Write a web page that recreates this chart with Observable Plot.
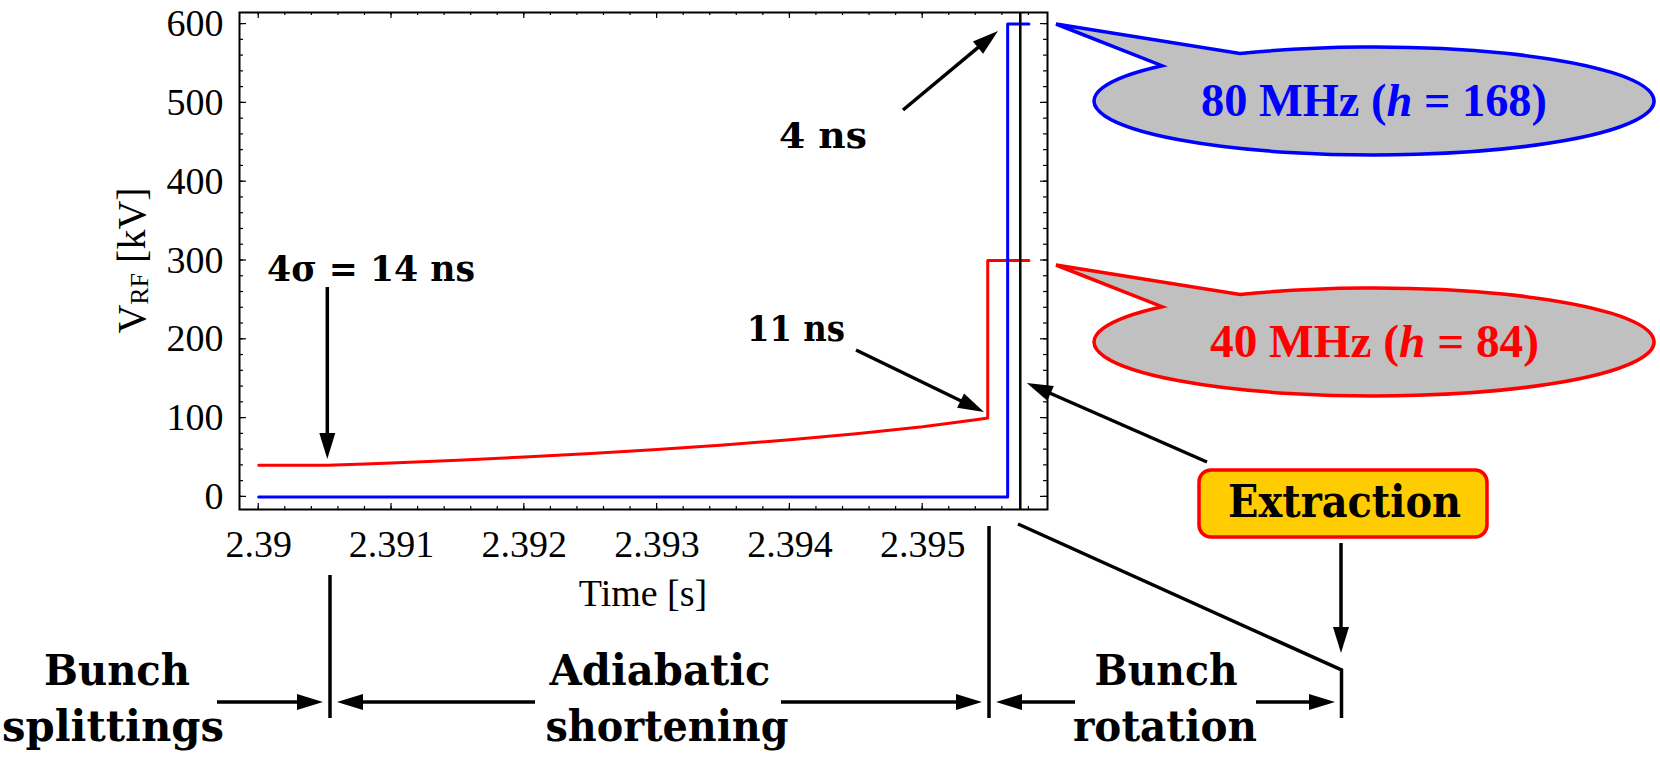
<!DOCTYPE html>
<html>
<head>
<meta charset="utf-8">
<script src="https://cdn.jsdelivr.net/npm/d3@7"></script>
<script src="https://cdn.jsdelivr.net/npm/@observablehq/plot@0.6"></script>
<style>
  body { margin: 0; background: #fff; }
  #chart svg { display: block; }
</style>
</head>
<body>
<div id="chart"></div>
<script>
// ---------- data ----------
const redTime = [2.39, 2.39052, 2.3908, 2.391, 2.3915, 2.392, 2.3925, 2.393, 2.3935, 2.394, 2.3945, 2.395, 2.3952, 2.3954, 2.39549, 2.39549, 2.3958];
const redVolt = [40, 40, 41.7, 43, 46.5, 50.5, 55, 60, 66, 72.5, 80, 89, 93.5, 98, 100, 300, 300];
const blueTime = [2.39, 2.39564, 2.39564, 2.3958];
const blueVolt = [0, 0, 600, 600];
const extractionTime = [2.395735];

const xTickValues = [2.39, 2.391, 2.392, 2.393, 2.394, 2.395];
const xTickLabels = ["2.39", "2.391", "2.392", "2.393", "2.394", "2.395"];
const yTickValues = [0, 100, 200, 300, 400, 500, 600];
const yTickLabels = ["0", "100", "200", "300", "400", "500", "600"];

const redSeries = redTime.map((t, i) => ({t, v: redVolt[i]}));
const blueSeries = blueTime.map((t, i) => ({t, v: blueVolt[i]}));

// ---------- layout ----------
const W = 1660, H = 759;
const mL = 239, mR = 613, mT = 12, mB = 250;

const plot = Plot.plot({
  width: W,
  height: H,
  marginLeft: mL, marginRight: mR, marginTop: mT, marginBottom: mB,
  style: {fontFamily: "'Liberation Serif', serif", fontSize: "38px", background: "white", color: "black", overflow: "visible"},
  x: {domain: [2.389855, 2.39594], ticks: xTickValues,
      tickFormat: d => xTickLabels[xTickValues.indexOf(d)], tickSize: 0, tickPadding: 21, label: null},
  y: {domain: [-16, 614.7], ticks: yTickValues,
      tickFormat: d => yTickLabels[yTickValues.indexOf(d)], tickSize: 0, tickPadding: 16, label: null},
  marks: [
    Plot.line(redSeries, {x: "t", y: "v", stroke: "#ff0000", strokeWidth: 3}),
    Plot.line(blueSeries, {x: "t", y: "v", stroke: "#0000ff", strokeWidth: 3}),
    Plot.ruleX(extractionTime, {stroke: "black", strokeWidth: 2.5}),
    Plot.frame({stroke: "black", strokeWidth: 2})
  ]
});
document.getElementById("chart").appendChild(plot);

// ---------- overlay: ticks & annotations ----------
const svg = d3.select(plot);
const sx = plot.scale("x"), sy = plot.scale("y");
const X = v => sx.apply(v), Y = v => sy.apply(v);
const fx0 = mL, fx1 = W - mR, fy0 = mT, fy1 = H - mB;
const g = svg.append("g").attr("text-anchor", "start");

// inward ticks on all four sides
const tickG = g.append("g").attr("stroke", "black").attr("stroke-width", 1.2);
const xMinor = d3.range(0, 30).map(i => 2.39 + i * 0.0002).filter(t => t <= 2.39581);
const yMinor = d3.range(0, 31).map(i => i * 20);
function hTick(x, len) {
  tickG.append("line").attr("x1", x).attr("x2", x).attr("y1", fy1).attr("y2", fy1 - len);
  tickG.append("line").attr("x1", x).attr("x2", x).attr("y1", fy0).attr("y2", fy0 + len);
}
function vTick(y, len) {
  tickG.append("line").attr("y1", y).attr("y2", y).attr("x1", fx0).attr("x2", fx0 + len);
  tickG.append("line").attr("y1", y).attr("y2", y).attr("x1", fx1).attr("x2", fx1 - len);
}
xMinor.forEach(t => hTick(X(t), 3));
xTickValues.forEach(t => hTick(X(t), 6));
yMinor.forEach(v => vTick(Y(v), 4));
yTickValues.forEach(v => vTick(Y(v), 7));

// axis titles
g.append("text").attr("x", (fx0 + fx1) / 2).attr("y", 606).attr("text-anchor", "middle")
  .attr("font-family", "'Liberation Serif', serif").attr("font-size", 38).text("Time [s]");
const yl = g.append("text").attr("transform", `translate(145,${(fy0 + fy1) / 2}) rotate(-90)`)
  .attr("text-anchor", "middle").attr("font-family", "'Liberation Serif', serif").attr("font-size", 40);
yl.append("tspan").text("V");
yl.append("tspan").attr("font-size", 26).attr("dy", 3).text("RF");
yl.append("tspan").attr("dy", -3).text(" [kV]");

// arrows
function arrow(x1, y1, x2, y2, sw = 3.5, len = 26, hw = 8) {
  const dx = x2 - x1, dy = y2 - y1, d = Math.hypot(dx, dy), ux = dx / d, uy = dy / d;
  const bx = x2 - ux * len, by = y2 - uy * len;
  g.append("line").attr("x1", x1).attr("y1", y1).attr("x2", bx + ux * 3).attr("y2", by + uy * 3)
    .attr("stroke", "black").attr("stroke-width", sw);
  g.append("path").attr("d", `M${x2},${y2}L${bx - uy * hw},${by + ux * hw}L${bx + uy * hw},${by - ux * hw}Z`)
    .attr("fill", "black");
}
function seg(points, sw = 3.5) {
  g.append("path").attr("d", "M" + points.map(p => p.join(",")).join("L"))
    .attr("fill", "none").attr("stroke", "black").attr("stroke-width", sw);
}
const BOLD = "'DejaVu Serif', serif";
function label(txt, x, y, size, width, anchor = "start", fill = "black", family = BOLD) {
  const t = g.append("text").attr("x", x).attr("y", y).attr("font-size", size)
    .attr("font-family", family).attr("font-weight", "bold").attr("fill", fill)
    .attr("text-anchor", anchor).text(txt);
  if (width) t.attr("textLength", width).attr("lengthAdjust", "spacingAndGlyphs");
  return t;
}

// annotations inside the plot
label("4σ = 14 ns", 267, 281, 35, 208);
arrow(X(2.39052), 287, X(2.39052), 459);
label("4 ns", 779, 148, 35, 88);
arrow(903, 110, 998, 31);
label("11 ns", 747, 341, 35, 98);
arrow(856, 350, 984, 412);

// speech-bubble callouts
function callout(cy, stroke, parts, tx, ty, tw) {
  const cx = 1374, rx = 280, ry = 54;
  const tip = [1056, cy - 77];
  const ax = 1240, bx = 1162;
  const ay = cy - ry * Math.sqrt(1 - ((ax - cx) / rx) ** 2);
  const by = cy - ry * Math.sqrt(1 - ((bx - cx) / rx) ** 2);
  g.append("path")
    .attr("d", `M${ax},${ay}A${rx},${ry} 0 1 1 ${bx},${by}L${tip[0]},${tip[1]}Z`)
    .attr("fill", "#c0c0c0").attr("stroke", stroke).attr("stroke-width", 3.5).attr("stroke-linejoin", "miter");
  const t = g.append("text").attr("x", tx).attr("y", ty).attr("font-size", 46)
    .attr("text-anchor", "start")
    .attr("font-family", "'Liberation Serif', serif").attr("font-weight", "bold").attr("fill", stroke)
    .attr("textLength", tw).attr("lengthAdjust", "spacingAndGlyphs");
  parts.forEach(([s, it]) => t.append("tspan").attr("font-style", it ? "italic" : null).text(s));
}
callout(101, "#0000ff", [["80 MHz ("], ["h", true], [" = 168)"]], 1201, 116, 346);
callout(342, "#ff0000", [["40 MHz ("], ["h", true], [" = 84)"]], 1210, 357, 329);

// Extraction box
g.append("rect").attr("x", 1199).attr("y", 470).attr("width", 288).attr("height", 67).attr("rx", 12)
  .attr("fill", "#ffcc00").attr("stroke", "#ff0000").attr("stroke-width", 3.5);
label("Extraction", 1228, 517, 44, 233);
arrow(1207, 462, X(2.395735) + 7, 383);
arrow(1341, 543, 1341, 653);

// phase separators and spans
seg([[330, 575], [330, 718]]);
seg([[989, 526], [989, 718]]);
seg([[1018, 524], [1341.5, 670], [1341.5, 718]]);
arrow(217, 702, 323, 702);
arrow(535, 702, 337, 702);
arrow(781, 702, 982, 702);
arrow(1075, 702, 996, 702);
arrow(1256, 702, 1335, 702);

label("Bunch", 117, 685, 42, 146, "middle");
label("splittings", 113, 741, 42, 222, "middle");
label("Adiabatic", 660, 685, 42, 221, "middle");
label("shortening", 667, 741, 42, 243, "middle");
label("Bunch", 1166, 685, 42, 143, "middle");
label("rotation", 1165, 741, 42, 184, "middle");
</script>
</body>
</html>
